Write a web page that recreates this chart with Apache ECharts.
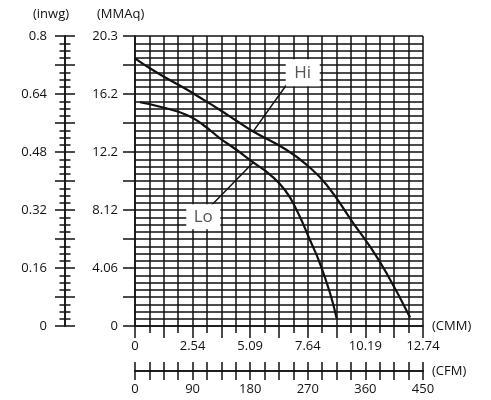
<!DOCTYPE html>
<html>
<head>
<meta charset="utf-8">
<script src="https://cdn.jsdelivr.net/npm/echarts@6/dist/echarts.min.js"></script>
<style>html,body{margin:0;padding:0;background:#fff;}#c{width:491px;height:400px;}</style>
</head>
<body>
<div id="c"></div>
<script>
// Airflow (CMM) vs static pressure (MMAq)
const hiCurve = [
  [0, 18.74], [0.66, 18.04], [1.40, 17.34], [2.29, 16.55], [3.02, 15.85],
  [3.76, 15.12], [4.50, 14.35], [5.23, 13.62], [6.71, 12.32], [7.60, 11.27],
  [8.48, 9.87], [9.66, 7.19], [10.40, 5.55], [11.13, 3.69], [12.17, 0.60]
];
const loCurve = [
  [0.22, 15.66], [1.11, 15.35], [2.29, 14.77], [3.02, 14.07], [3.76, 13.14],
  [4.50, 12.32], [5.23, 11.45], [5.97, 10.60], [6.64, 9.50], [7.15, 8.12],
  [7.74, 6.02], [8.18, 4.39], [8.63, 2.29], [8.92, 0.54]
];
const cmmLabels = ['0', '2.54', '5.09', '7.64', '10.19', '12.74'];
const mmaqLabels = ['0', '4.06', '8.12', '12.2', '16.2', '20.3'];
const inwgLabels = ['0', '0.16', '0.32', '0.48', '0.64', '0.8'];
const cfmLabels = ['0', '90', '180', '270', '360', '450'];

const FONT = 'Open Sans';
const INK = '#111';
const line = { color: INK, width: 1.5 };

const chart = echarts.init(document.getElementById('c'));
chart.setOption({
  animation: false,
  backgroundColor: '#fff',
  textStyle: { fontFamily: FONT },
  grid: { left: 135, top: 36, width: 288, height: 290 },
  graphic: [
    { type: 'text', left: 33, top: 8, style: { text: '(inwg)', font: '13px "Open Sans"', fill: INK } },
    { type: 'text', left: 97, top: 8, style: { text: '(MMAq)', font: '13px "Open Sans"', fill: INK } }
  ],
  xAxis: [
    {
      type: 'value', min: 0, max: 12.74, interval: 1.274, position: 'bottom',
      name: '(CMM)', nameLocation: 'end', nameGap: 9,
      nameTextStyle: { color: INK, fontSize: 13, fontFamily: FONT },
      axisLine: { show: true, onZero: false, lineStyle: line },
      axisTick: { show: true, length: 12, lineStyle: line },
      minorTick: { show: true, splitNumber: 2, length: 7, lineStyle: line },
      splitLine: { show: true, lineStyle: line },
      minorSplitLine: { show: true, lineStyle: line },
      axisLabel: {
        color: INK, fontSize: 13, fontFamily: FONT, margin: 14,
        showMinLabel: true, showMaxLabel: true,
        formatter: function (v) {
          const i = Math.round(v / 1.274);
          return i % 2 === 0 ? cmmLabels[i / 2] : '';
        }
      }
    },
    {
      type: 'value', min: 0, max: 450, interval: 45, position: 'bottom', offset: 45,
      name: '(CFM)', nameLocation: 'end', nameGap: 9,
      nameTextStyle: { color: INK, fontSize: 13, fontFamily: FONT },
      axisLine: { show: true, onZero: false, lineStyle: line },
      axisTick: { show: true, length: 9, lineStyle: line },
      minorTick: { show: true, splitNumber: 2, length: 9, lineStyle: line },
      splitLine: { show: false },
      axisLabel: {
        color: INK, fontSize: 13, fontFamily: FONT, margin: 12,
        showMinLabel: true, showMaxLabel: true,
        formatter: function (v) {
          const i = Math.round(v / 45);
          return i % 2 === 0 ? cfmLabels[i / 2] : '';
        }
      }
    },
    {
      type: 'value', min: 0, max: 450, interval: 45, position: 'bottom', offset: 45,
      axisLine: { show: true, onZero: false, lineStyle: line },
      axisTick: { show: true, inside: true, length: 9, lineStyle: line },
      minorTick: { show: true, splitNumber: 2, length: 9, lineStyle: line },
      splitLine: { show: false },
      axisLabel: { show: false }
    }
  ],
  yAxis: [
    {
      type: 'value', min: 0, max: 20.3, interval: 2.03, position: 'left',
      axisLine: { show: true, onZero: false, lineStyle: line },
      axisTick: { show: true, length: 12, lineStyle: line },
      minorTick: { show: false, splitNumber: 4 },
      splitLine: { show: true, lineStyle: line },
      minorSplitLine: { show: true, lineStyle: line },
      axisLabel: {
        color: INK, fontSize: 13, fontFamily: FONT, margin: 17,
        showMinLabel: true, showMaxLabel: true,
        formatter: function (v) {
          const i = Math.round(v / 2.03);
          return i % 2 === 0 ? mmaqLabels[i / 2] : '';
        }
      }
    },
    {
      type: 'value', min: 0, max: 0.8, interval: 0.08, position: 'left', offset: 70,
      axisLine: { show: true, onZero: false, lineStyle: line },
      axisTick: { show: true, length: 10, lineStyle: line },
      minorTick: { show: true, splitNumber: 4, length: 5.5, lineStyle: line },
      splitLine: { show: false },
      axisLabel: {
        color: INK, fontSize: 13, fontFamily: FONT, margin: 18,
        showMinLabel: true, showMaxLabel: true,
        formatter: function (v) {
          const i = Math.round(v / 0.08);
          return i % 2 === 0 ? inwgLabels[i / 2] : '';
        }
      }
    },
    {
      type: 'value', min: 0, max: 0.8, interval: 0.08, position: 'left', offset: 70,
      axisLine: { show: true, onZero: false, lineStyle: line },
      axisTick: { show: true, inside: true, length: 10, lineStyle: line },
      minorTick: { show: true, splitNumber: 4, length: 5.5, lineStyle: line },
      splitLine: { show: false },
      axisLabel: { show: false }
    }
  ],
  series: [
    {
      name: 'Hi', type: 'line', xAxisIndex: 0, yAxisIndex: 0,
      data: hiCurve, smooth: 0.5, showSymbol: false, silent: true,
      lineStyle: { color: INK, width: 2.2 },
      markLine: {
        silent: true, symbol: 'none',
        lineStyle: { color: INK, width: 1.5, type: 'solid' },
        label: { show: false },
        data: [
          [{ coord: [6.83, 17.17] }, { coord: [5.23, 13.62] }],
          [{ coord: [3.32, 8.35] }, { coord: [5.23, 11.45] }]
        ]
      },
      markPoint: {
        silent: true, symbol: 'rect',
        itemStyle: { color: '#fff' },
        label: { show: true, position: 'inside', color: '#555', fontSize: 17, fontFamily: FONT, formatter: '{b}' },
        data: [
          { name: 'Hi', coord: [7.42, 17.73], symbolSize: [34, 27] },
          { name: 'Lo', coord: [3.02, 7.65], symbolSize: [34, 25] }
        ]
      }
    },
    {
      name: 'Lo', type: 'line', xAxisIndex: 0, yAxisIndex: 0,
      data: loCurve, smooth: 0.5, showSymbol: false, silent: true,
      lineStyle: { color: INK, width: 2.2 }
    }
  ]
});
</script>
</body>
</html>
